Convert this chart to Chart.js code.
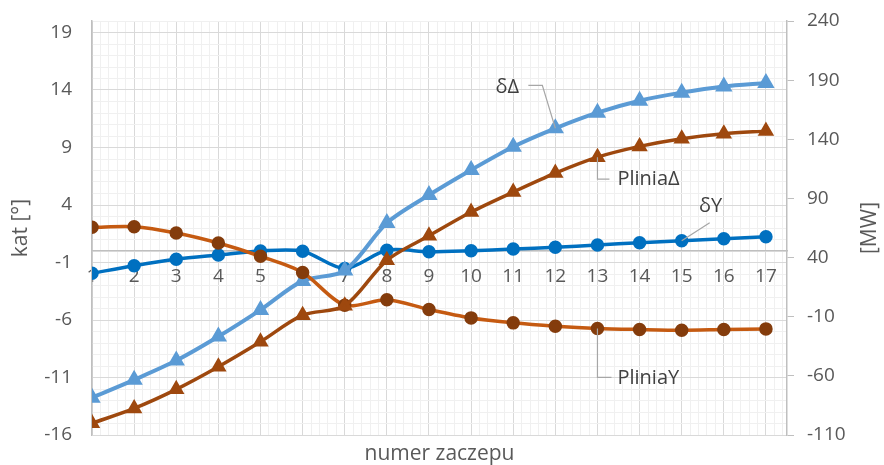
<!DOCTYPE html>
<html>
<head>
<meta charset="utf-8">
<script src="https://cdn.jsdelivr.net/npm/chart.js@4.4.1/dist/chart.umd.min.js"></script>
<style>
    html, body { margin: 0; padding: 0; background: #fff; }
    #wrap { width: 884px; height: 465px; }
</style>
</head>
<body>
<div id="wrap"><canvas id="tapChart" width="884" height="465"></canvas></div>
<script>
// categories (numer zaczepu)
const categories = [1, 2, 3, 4, 5, 6, 7, 8, 9, 10, 11, 12, 13, 14, 15, 16, 17];

// angles [deg] - left axis
const deltaY = [-1.94, -1.28, -0.72, -0.35, 0, -0.02, -1.52, 0.06, -0.06, 0.03, 0.17, 0.32, 0.52, 0.72, 0.9, 1.07, 1.24];
const deltaD = [-12.75, -11.2, -9.53, -7.44, -5.12, -2.6, -1.7, 2.44, 4.87, 7.05, 9.07, 10.67, 12.03, 13.07, 13.77, 14.3, 14.6];

// powers [MW] - right axis
const pliniaY = [65.6, 66.1, 60.8, 52.3, 41.1, 27.4, -0.3, 4.4, -3.9, -11, -15.2, -18, -19.9, -20.8, -21.4, -20.8, -20.3];
const pliniaD = [-100.1, -87.5, -71.4, -52.3, -31.2, -8.7, -0.7, 37.7, 58.4, 78.5, 95.4, 111.4, 124.9, 134, 140.5, 144.7, 146.9];

// tick labels
const leftTicks = [-16, -11, -6, -1, 4, 9, 14, 19];
const rightTicks = [-110, -60, -10, 40, 90, 140, 190, 240];

const FONT = '"Open Sans", "DejaVu Sans", sans-serif';
const TEXT = '#595959';
const MAJOR = '#d9d9d9';
const MINOR = '#f0f0f0';
const AXIS = '#bfbfbf';

function toPoints(values) {
    return categories.map((c, i) => ({ x: c, y: values[i] }));
}

function isMajorLeft(v) {
    return leftTicks.indexOf(v) !== -1;
}

// labels drawn next to the series (dataset index, point index)
const seriesLabels = [
    { ds: 1, pt: 11, text: 'δΔ', path: [[-13, -43], [-27, -43]], tx: -48, ty: -41, align: 'center' },
    { ds: 3, pt: 12, text: 'PliniaΔ', path: [[0, 22], [12, 22]], tx: 20, ty: 22, align: 'left' },
    { ds: 0, pt: 14, text: 'δY', path: [[28, -18]], tx: 29, ty: -34, align: 'center' },
    { ds: 2, pt: 12, text: 'PliniaY', path: [[0, 49], [14, 49]], tx: 20, ty: 50, align: 'left' }
];

// keep the label overflow from shrinking the plot area
function noScalePadding(scale) {
    scale.paddingTop = 0;
    scale.paddingBottom = 0;
    scale.paddingLeft = 0;
    scale.paddingRight = 0;
}

const textPlugin = {
    id: 'textPlugin',
    afterDraw(chart) {
        const ctx = chart.ctx;
        const area = chart.chartArea;
        ctx.save();
        ctx.fillStyle = TEXT;
        ctx.textBaseline = 'middle';
        ctx.textAlign = 'center';

        // axis titles
        ctx.font = '21px ' + FONT;
        ctx.fillText('numer zaczepu', (area.left + area.right) / 2, 454);
        const midY = (area.top + area.bottom) / 2;
        ctx.save();
        ctx.translate(21, midY);
        ctx.rotate(-Math.PI / 2);
        ctx.fillText('kat [°]', 0, 0);
        ctx.restore();
        ctx.save();
        ctx.translate(870, midY);
        ctx.rotate(-Math.PI / 2);
        ctx.fillText('[MW]', 0, 0);
        ctx.restore();

        // series labels with leader lines
        ctx.font = '20px ' + FONT;
        seriesLabels.forEach(lbl => {
            const el = chart.getDatasetMeta(lbl.ds).data[lbl.pt];
            const px = el.x, py = el.y;
            ctx.strokeStyle = '#a6a6a6';
            ctx.lineWidth = 1.2;
            ctx.beginPath();
            ctx.moveTo(px, py);
            lbl.path.forEach(p => ctx.lineTo(px + p[0], py + p[1]));
            ctx.stroke();
            ctx.fillStyle = '#404040';
            ctx.textAlign = lbl.align;
            ctx.fillText(lbl.text, px + lbl.tx, py + lbl.ty);
        });
        ctx.restore();
    }
};

document.addEventListener('DOMContentLoaded', function() {
    const ctx = document.getElementById('tapChart');

    new Chart(ctx, {
        type: 'line',
        data: {
            datasets: [
                {
                    label: 'δY',
                    data: toPoints(deltaY),
                    yAxisID: 'y',
                    borderColor: '#0070C0',
                    backgroundColor: '#0070C0',
                    borderWidth: 3.5,
                    pointStyle: 'circle',
                    pointRadius: 5,
                    tension: 0.3,
                    order: 4
                },
                {
                    label: 'δΔ',
                    data: toPoints(deltaD),
                    yAxisID: 'y',
                    borderColor: '#5B9BD5',
                    backgroundColor: '#5B9BD5',
                    borderWidth: 4,
                    pointStyle: 'triangle',
                    pointRadius: 6,
                    tension: 0.3,
                    order: 3
                },
                {
                    label: 'PliniaY',
                    data: toPoints(pliniaY),
                    yAxisID: 'y1',
                    borderColor: '#C55A11',
                    backgroundColor: '#843C0C',
                    pointBorderColor: '#843C0C',
                    borderWidth: 3.5,
                    pointStyle: 'circle',
                    pointRadius: 5,
                    tension: 0.3,
                    order: 2
                },
                {
                    label: 'PliniaΔ',
                    data: toPoints(pliniaD),
                    yAxisID: 'y1',
                    borderColor: '#9E480E',
                    backgroundColor: '#9E480E',
                    borderWidth: 3.5,
                    pointStyle: 'triangle',
                    pointRadius: 6,
                    tension: 0.3,
                    order: 1
                }
            ]
        },
        options: {
            responsive: false,
            animation: false,
            devicePixelRatio: 1,
            layout: {
                padding: { top: 21, bottom: 30, left: 0, right: 0 }
            },
            plugins: {
                legend: { display: false },
                tooltip: { enabled: false }
            },
            scales: {
                x: {
                    type: 'linear',
                    position: { y: 0 },
                    min: 1,
                    max: 17.5,
                    afterBuildTicks: function(scale) {
                        const ticks = [];
                        for (let i = 0; i <= 82; i++) {
                            ticks.push({ value: Math.round((1 + i * 0.2) * 10) / 10 });
                        }
                        scale.ticks = ticks;
                    },
                    afterFit: noScalePadding,
                    ticks: {
                        autoSkip: false,
                        maxRotation: 0,
                        padding: 14,
                        color: TEXT,
                        font: { family: FONT, size: 19 },
                        callback: function(value) {
                            return categories.indexOf(value) !== -1 ? String(value) : '';
                        }
                    },
                    grid: {
                        drawTicks: false,
                        color: function(c) {
                            const v = c.tick ? c.tick.value : 0;
                            return Number.isInteger(v) ? MAJOR : MINOR;
                        }
                    },
                    border: { color: AXIS, width: 1.5 }
                },
                y: {
                    type: 'linear',
                    position: 'left',
                    min: -16,
                    max: 20,
                    afterBuildTicks: function(scale) {
                        const ticks = [];
                        for (let v = -16; v <= 20; v++) ticks.push({ value: v });
                        scale.ticks = ticks;
                    },
                    afterFit: function(scale) {
                        scale.width = 92;
                        noScalePadding(scale);
                    },
                    ticks: {
                        autoSkip: false,
                        padding: 20,
                        color: TEXT,
                        font: { family: FONT, size: 19 },
                        callback: function(value) {
                            return leftTicks.indexOf(value) !== -1 ? String(value) : '';
                        }
                    },
                    grid: {
                        drawTicks: false,
                        color: function(c) {
                            const v = c.tick ? c.tick.value : 0;
                            return isMajorLeft(v) ? MAJOR : MINOR;
                        }
                    },
                    border: { color: AXIS, width: 1.5 }
                },
                y1: {
                    type: 'linear',
                    position: 'right',
                    min: -110,
                    max: 240,
                    afterBuildTicks: function(scale) {
                        scale.ticks = rightTicks.map(v => ({ value: v }));
                    },
                    afterFit: function(scale) {
                        scale.width = 97;
                        noScalePadding(scale);
                    },
                    ticks: {
                        autoSkip: false,
                        padding: 13,
                        color: TEXT,
                        font: { family: FONT, size: 19 }
                    },
                    grid: {
                        drawOnChartArea: false,
                        tickLength: 7,
                        color: AXIS
                    },
                    border: { color: AXIS, width: 1.5 }
                }
            }
        },
        plugins: [textPlugin]
    });
});
</script>
</body>
</html>
